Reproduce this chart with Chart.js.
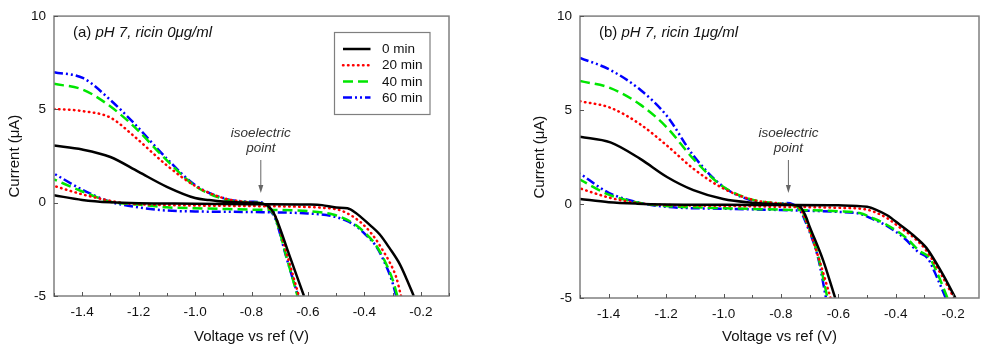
<!DOCTYPE html>
<html>
<head>
<meta charset="utf-8">
<script src="https://cdn.jsdelivr.net/npm/chart.js@4.4.0/dist/chart.umd.min.js"></script>
<style>
  html, body { margin: 0; padding: 0; background: #fff; }
  #wrap { position: relative; width: 1000px; height: 349px; }
  canvas { position: absolute; top: 0; }
</style>
</head>
<body>
<div id="wrap">
  <canvas id="panelA" width="500" height="349" style="left:0"></canvas>
  <canvas id="panelB" width="500" height="349" style="left:500px"></canvas>
</div>
<script>
// series labels and tick values
const seriesLabels = ['0 min', '20 min', '40 min', '60 min']
const xTickValues = [-1.4, -1.2, -1.0, -0.8, -0.6, -0.4, -0.2]
const yTickValues = [-5, 0, 5, 10]

// ---- panel (a) : ricin 0 ug/ml ----
// upper branch (scan to the right, then steep drop) / lower branch (coming back)
const a0UpV = [-1.5, -1.4, -1.3, -1.2, -1.1, -1.0, -0.95, -0.9, -0.8, -0.76, -0.73, -0.715, -0.665, -0.614]
const a0UpI = [3.06, 2.85, 2.45, 1.65, 0.85, 0.25, 0.14, 0.06, 0.0, -0.05, -0.35, -0.75, -2.85, -5]
const a0LoV = [-0.225, -0.25, -0.275, -0.31, -0.346, -0.38, -0.41, -0.43, -0.46, -0.50, -0.55, -0.6, -0.8, -1.0, -1.2, -1.3, -1.4, -1.5]
const a0LoI = [-5, -4.1, -3.28, -2.45, -1.69, -1.2, -0.8, -0.55, -0.3, -0.26, -0.13, -0.1, -0.08, -0.05, -0.03, 0.02, 0.15, 0.4]

const a20UpV = [-1.5, -1.4, -1.3, -1.219, -1.1, -1.0, -0.9, -0.8, -0.76, -0.73, -0.715, -0.67, -0.632]
const a20UpI = [5.03, 4.91, 4.56, 3.6, 2.0, 0.9, 0.25, 0.0, -0.08, -0.4, -0.75, -3.0, -5]
const a20LoV = [-0.27, -0.287, -0.31, -0.334, -0.36, -0.393, -0.43, -0.476, -0.5, -0.55, -0.6, -0.8, -1.0, -1.2, -1.25, -1.3, -1.4, -1.5]
const a20LoI = [-5, -4.0, -3.2, -2.57, -1.95, -1.34, -0.85, -0.46, -0.35, -0.27, -0.23, -0.18, -0.15, -0.08, -0.03, 0.1, 0.45, 0.9]

const a40UpV = [-1.5, -1.396, -1.302, -1.219, -1.1, -1.0, -0.889, -0.8, -0.76, -0.73, -0.717, -0.675, -0.637]
const a40UpI = [6.37, 6.05, 5.18, 4.12, 2.27, 0.9, 0.16, 0.02, -0.05, -0.45, -0.75, -2.96, -5]
const a40LoV = [-0.283, -0.299, -0.334, -0.36, -0.393, -0.43, -0.464, -0.511, -0.6, -0.8, -1.0, -1.1, -1.2, -1.27, -1.3, -1.4, -1.5]
const a40LoI = [-5, -4.16, -2.93, -2.25, -1.69, -1.2, -0.9, -0.63, -0.45, -0.37, -0.3, -0.25, -0.1, -0.02, 0.05, 0.6, 1.25]

const a60UpV = [-1.5, -1.396, -1.302, -1.219, -1.1, -1.0, -0.889, -0.8, -0.76, -0.73, -0.717, -0.675, -0.635]
const a60UpI = [6.99, 6.67, 5.53, 4.3, 2.36, 0.95, 0.2, 0.05, 0.0, -0.5, -0.8, -3.0, -5]
const a60LoV = [-0.287, -0.302, -0.336, -0.36, -0.395, -0.43, -0.466, -0.52, -0.6, -0.8, -1.0, -1.1, -1.2, -1.3, -1.4, -1.5]
const a60LoI = [-5, -4.2, -2.95, -2.3, -1.72, -1.25, -0.95, -0.7, -0.58, -0.5, -0.47, -0.42, -0.25, 0.05, 0.7, 1.56]

// ---- panel (b) : ricin 1 ug/ml ----
const b0UpV = [-1.5, -1.394, -1.29, -1.197, -1.105, -1.001, -0.897, -0.8, -0.76, -0.734, -0.715, -0.70, -0.653, -0.611]
const b0UpI = [3.58, 3.28, 2.4, 1.44, 0.74, 0.27, 0.07, -0.02, -0.05, -0.13, -0.6, -1.2, -3.0, -5]
const b0LoV = [-0.192, -0.237, -0.294, -0.34, -0.387, -0.43, -0.468, -0.5, -0.6, -0.8, -1.0, -1.2, -1.3, -1.4, -1.5]
const b0LoI = [-5, -3.72, -2.32, -1.65, -1.09, -0.6, -0.31, -0.15, -0.07, -0.05, -0.04, -0.02, 0.02, 0.1, 0.27]

const b20UpV = [-1.5, -1.394, -1.29, -1.197, -1.105, -1.001, -0.897, -0.8, -0.76, -0.735, -0.715, -0.67, -0.627]
const b20UpI = [5.47, 5.12, 4.24, 3.11, 1.88, 0.83, 0.22, 0.02, -0.05, -0.2, -0.8, -2.8, -5]
const b20LoV = [-0.197, -0.24, -0.295, -0.34, -0.39, -0.43, -0.47, -0.5, -0.6, -0.8, -1.0, -1.2, -1.3, -1.4, -1.5]
const b20LoI = [-5, -3.8, -2.45, -1.75, -1.2, -0.75, -0.45, -0.3, -0.2, -0.15, -0.1, -0.05, 0.05, 0.35, 0.83]

const b40UpV = [-1.5, -1.394, -1.29, -1.197, -1.105, -1.001, -0.897, -0.8, -0.76, -0.735, -0.715, -0.67, -0.638]
const b40UpI = [6.55, 6.17, 5.29, 4.07, 2.4, 0.92, 0.22, 0.02, -0.05, -0.25, -0.8, -2.8, -5]
const b40LoV = [-0.22, -0.249, -0.283, -0.318, -0.364, -0.433, -0.48, -0.526, -0.6, -0.8, -1.0, -1.2, -1.3, -1.4, -1.5]
const b40LoI = [-5, -3.9, -2.85, -2.49, -1.8, -1.09, -0.75, -0.48, -0.38, -0.3, -0.22, -0.1, 0.08, 0.5, 1.3]

const b60UpV = [-1.5, -1.394, -1.29, -1.197, -1.105, -1.001, -0.897, -0.82, -0.78, -0.76, -0.735, -0.717, -0.67, -0.643]
const b60UpI = [7.78, 7.13, 6.08, 4.68, 2.58, 0.92, 0.17, 0.0, 0.05, 0.0, -0.3, -0.85, -2.9, -5]
const b60LoV = [-0.226, -0.255, -0.288, -0.322, -0.368, -0.436, -0.483, -0.53, -0.6, -0.8, -1.0, -1.2, -1.3, -1.4, -1.5]
const b60LoI = [-5, -3.95, -2.9, -2.55, -1.85, -1.12, -0.78, -0.5, -0.42, -0.32, -0.25, -0.15, 0.1, 0.6, 1.62]

const FONT = "'Liberation Sans', Arial, sans-serif"
const FRAME = '#7f7f7f'

const styles = [
  { borderColor: '#000000', borderDash: [], borderCapStyle: 'butt' },
  { borderColor: '#ff0000', borderDash: [0.5, 4.5], borderCapStyle: 'round' },
  { borderColor: '#00e600', borderDash: [10, 5], borderCapStyle: 'butt' },
  { borderColor: '#0000ff', borderDash: [9, 3, 2, 3, 2, 3], borderCapStyle: 'butt' }
]

function toPoints(vs, is) {
  return vs.map((v, i) => ({ x: v, y: is[i] }))
}

// one loop = upper branch, gap, lower branch
function loop(upV, upI, loV, loI) {
  return [...toPoints(upV, upI), { x: null, y: null }, ...toPoints(loV, loI)]
}

const panelPlugin = {
  id: 'panelDeco',
  afterDatasetsDraw(chart, args, opts) {
    const { ctx, chartArea: ca, scales: { x, y } } = chart
    ctx.save()
    // frame
    ctx.strokeStyle = FRAME
    ctx.lineWidth = 1.5
    ctx.strokeRect(ca.left, ca.top, ca.right - ca.left, ca.bottom - ca.top)
    // inward ticks
    ctx.lineWidth = 1
    ctx.strokeStyle = '#555'
    ctx.beginPath()
    for (let k = -15; k <= -1; k++) {
      const v = k / 10
      if (v < x.min || v > x.max) continue
      const px = Math.round(x.getPixelForValue(v)) + 0.5
      const len = (k % 2 === 0) ? 4 : 3
      ctx.moveTo(px, ca.bottom)
      ctx.lineTo(px, ca.bottom - len)
    }
    yTickValues.forEach(v => {
      const py = Math.round(y.getPixelForValue(v)) + 0.5
      ctx.moveTo(ca.left, py)
      ctx.lineTo(ca.left + 4, py)
    })
    ctx.stroke()

    // panel title
    ctx.fillStyle = '#111'
    ctx.textBaseline = 'middle'
    ctx.textAlign = 'left'
    let tx = ca.left + 19
    ctx.font = '15px ' + FONT
    ctx.fillText(opts.tag + ' ', tx, 33)
    tx += ctx.measureText(opts.tag + ' ').width
    ctx.font = 'italic 15px ' + FONT
    ctx.fillText(opts.title, tx, 33)

    // isoelectric point annotation
    const ax = x.getPixelForValue(opts.arrowX)
    ctx.fillStyle = '#333'
    ctx.textAlign = 'center'
    ctx.font = 'italic 13.5px ' + FONT
    ctx.fillText('isoelectric', ax, 133)
    ctx.fillText('point', ax, 148)
    ctx.strokeStyle = '#666'
    ctx.fillStyle = '#666'
    ctx.lineWidth = 1
    ctx.beginPath()
    ctx.moveTo(ax, 160)
    ctx.lineTo(ax, 188)
    ctx.stroke()
    ctx.beginPath()
    ctx.moveTo(ax - 2.5, 185)
    ctx.lineTo(ax + 2.5, 185)
    ctx.lineTo(ax, 193)
    ctx.closePath()
    ctx.fill()

    // legend (panel a only)
    if (opts.legend) {
      const lx = 334.5, ly = 32.5, lw = 95.5, lh = 82
      ctx.fillStyle = '#fff'
      ctx.fillRect(lx, ly, lw, lh)
      ctx.strokeStyle = FRAME
      ctx.lineWidth = 1.2
      ctx.strokeRect(lx, ly, lw, lh)
      chart.data.datasets.forEach((ds, i) => {
        const ry = 49 + i * 16.2
        ctx.strokeStyle = ds.borderColor
        ctx.lineWidth = 2.5
        ctx.lineCap = ds.borderCapStyle
        ctx.setLineDash(ds.borderDash)
        ctx.beginPath()
        ctx.moveTo(343, ry)
        ctx.lineTo(370.5, ry)
        ctx.stroke()
        ctx.setLineDash([])
        ctx.lineCap = 'butt'
        ctx.fillStyle = '#111'
        ctx.textAlign = 'left'
        ctx.font = '13.5px ' + FONT
        ctx.fillText(ds.label, 382, ry + 0.5)
      })
    }
    ctx.restore()
  }
}

function makePanel(id, loops, cfg) {
  const datasets = loops.map((data, i) => ({
    label: seriesLabels[i],
    data: data,
    borderColor: styles[i].borderColor,
    borderDash: styles[i].borderDash,
    borderCapStyle: styles[i].borderCapStyle,
    borderWidth: 2.5,
    pointRadius: 0,
    cubicInterpolationMode: 'monotone',
    fill: false,
    spanGaps: false,
    order: i
  }))

  return new Chart(document.getElementById(id), {
    type: 'line',
    data: { datasets },
    options: {
      responsive: false,
      animation: false,
      events: [],
      layout: { padding: { left: 0, right: cfg.padRight, top: 12, bottom: 0 } },
      plugins: {
        legend: { display: false },
        tooltip: { enabled: false },
        panelDeco: cfg.deco
      },
      scales: {
        x: {
          type: 'linear',
          min: -1.5,
          max: cfg.xMax,
          afterBuildTicks: s => { s.ticks = xTickValues.map(v => ({ value: v })) },
          afterFit: s => { s.height = cfg.xHeight },
          grid: { display: false, drawTicks: false },
          border: { display: false },
          ticks: {
            padding: 8,
            color: '#111',
            font: { family: FONT, size: 13.5 },
            callback: v => v.toFixed(1)
          },
          title: {
            display: true,
            text: 'Voltage vs ref (V)',
            color: '#111',
            font: { family: FONT, size: 15 },
            padding: { top: 0, bottom: 3 }
          }
        },
        y: {
          type: 'linear',
          min: -5,
          max: 10,
          afterBuildTicks: s => { s.ticks = yTickValues.map(v => ({ value: v })) },
          afterFit: s => { s.width = cfg.yWidth },
          grid: { display: false, drawTicks: false },
          border: { display: false },
          ticks: {
            padding: 8,
            color: '#111',
            font: { family: FONT, size: 13.5 }
          },
          title: {
            display: true,
            text: 'Current (μA)',
            color: '#111',
            font: { family: FONT, size: 15 },
            padding: { top: cfg.yTitlePad, bottom: 0 }
          }
        }
      }
    },
    plugins: [panelPlugin]
  })
}

makePanel('panelA', [
  loop(a0UpV, a0UpI, a0LoV, a0LoI),
  loop(a20UpV, a20UpI, a20LoV, a20LoI),
  loop(a40UpV, a40UpI, a40LoV, a40LoI),
  loop(a60UpV, a60UpI, a60LoV, a60LoI)
], {
  padRight: 51, xHeight: 53, yWidth: 54, yTitlePad: 6, xMax: -0.1,
  deco: { tag: '(a)', title: 'pH 7, ricin 0μg/ml', arrowX: -0.767, legend: true }
})

makePanel('panelB', [
  loop(b0UpV, b0UpI, b0LoV, b0LoI),
  loop(b20UpV, b20UpI, b20LoV, b20LoI),
  loop(b40UpV, b40UpI, b40LoV, b40LoI),
  loop(b60UpV, b60UpI, b60LoV, b60LoI)
], {
  padRight: 21, xHeight: 51, yWidth: 80, yTitlePad: 31, xMax: -0.11,
  deco: { tag: '(b)', title: 'pH 7, ricin 1μg/ml', arrowX: -0.774, legend: false }
})
</script>
</body>
</html>
